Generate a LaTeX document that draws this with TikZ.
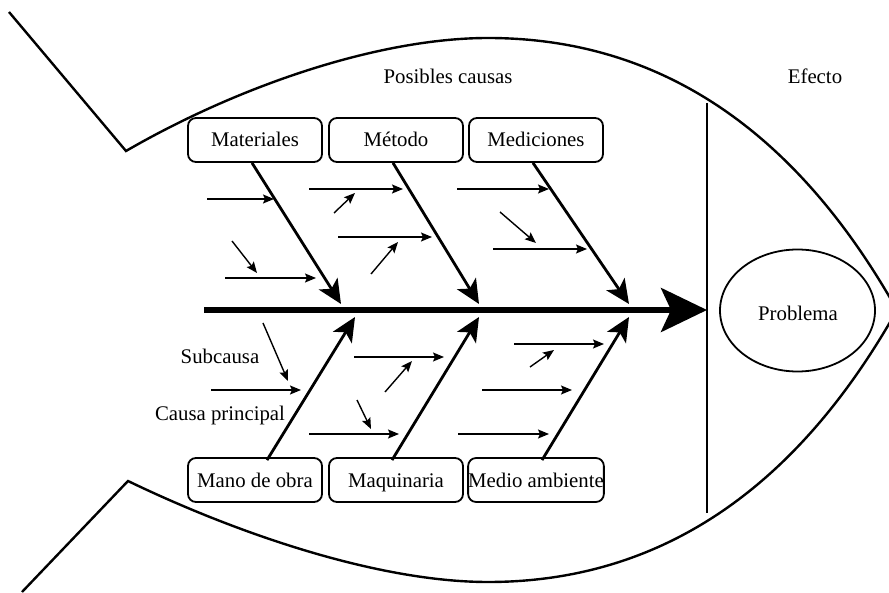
\documentclass[tikz,border=0pt]{standalone}
\usepackage{fontspec}
\setmainfont{Liberation Serif}
\usetikzlibrary{arrows.meta,shapes.geometric}
\begin{document}
\begin{tikzpicture}[x=1pt,y=-1pt,
  txt/.style={font=\fontsize{20.8}{25}\selectfont, inner sep=0pt},
  causebox/.style={txt, draw, line width=1.8pt, rounded corners=8pt,
    minimum width=134pt, minimum height=44pt, text height=16pt, text depth=2pt},
  outline/.style={line width=2.4pt, line join=miter},
  bone/.style={line width=2.8pt, -{Stealth[length=24pt,width=22pt,inset=6pt]}},
  spine/.style={line width=5.5pt, -{Stealth[length=46pt,width=44pt,inset=10pt]}},
  sub/.style={line width=1.4pt, -{Stealth[length=11pt,width=9pt,inset=2pt]}}]
\useasboundingbox (0,0) rectangle (889,593);

% fish body and tail
\draw[outline] (9,12) -- (126,151)
  .. controls (240,85) and (380,38) .. (488,38)
  .. controls (650,38) and (790,120) .. (897,310)
  .. controls (790,500) and (650,582) .. (488,582)
  .. controls (380,582) and (240,535) .. (128,481) -- (22,592);

% headings
\node[txt] (causas) at (448,76) {Posibles causas};
\node[txt] (efecto) at (815,76) {Efecto};

% head separator and the problem
\coordinate (vtop) at (707,103);
\coordinate (vbot) at (707,513);
\draw[line width=1.8pt] (vtop) -- (vbot);
\node[draw, ellipse, line width=1.8pt, minimum width=155pt, minimum height=122pt]
  (prob) at (797.5,310.5) {};
\node[txt] (probtxt) at (798,313) {Problema};

% main cause boxes
\node[causebox] (mat) at (255,140) {Materiales};
\node[causebox] (met) at (396,140) {Método};
\node[causebox] (med) at (536,140) {Mediciones};
\node[causebox] (mano) at (255,480) {Mano de obra};
\node[causebox] (maq) at (396,480) {Maquinaria};
\node[causebox] (amb) at (536,480) {Medio ambiente};

% spine
\coordinate (tail) at (204,310);
\coordinate (head) at (707,310);
\draw[spine] (tail) -- (head);

% bone tips on the spine
\coordinate (t1) at (341,304);
\coordinate (t2) at (479,304);
\coordinate (t3) at (629,304);
\coordinate (b1) at (355,317);
\coordinate (b2) at (479,317);
\coordinate (b3) at (629,317);

\draw[bone] ([xshift=-3pt]mat.south) -- (t1);
\draw[bone] ([xshift=-3pt]met.south) -- (t2);
\draw[bone] ([xshift=-3pt]med.south) -- (t3);
\draw[bone] ([xshift=12pt,yshift=-3pt]mano.north) -- (b1);
\draw[bone] ([xshift=-4pt,yshift=-3pt]maq.north) -- (b2);
\draw[bone] ([xshift=6pt,yshift=-3pt]amb.north) -- (b3);

% sub-causes
\foreach \xa/\ya/\xb/\yb in {
  207/199/274/199, 232/241/257/273, 225/278/316/278,
  309/189/403/189, 334/213/355/193, 338/237/432/237, 371/274/398/242,
  457/189/549/189, 500/212/536/243, 493/249/587/249,
  263/323/288/381, 211/390/301/390,
  354/357/444/357, 385/392/412/361, 357/400/371/429, 309/434/399/434,
  514/344/604/344, 530/367/554/350, 482/390/572/390, 458/434/549/434}
  \draw[sub] (\xa,\ya) -- (\xb,\yb);

% legend labels
\node[txt] (subl) at (220,356) {Subcausa};
\node[txt] (mainl) at (220,415) {Causa principal};
\end{tikzpicture}
\end{document}
